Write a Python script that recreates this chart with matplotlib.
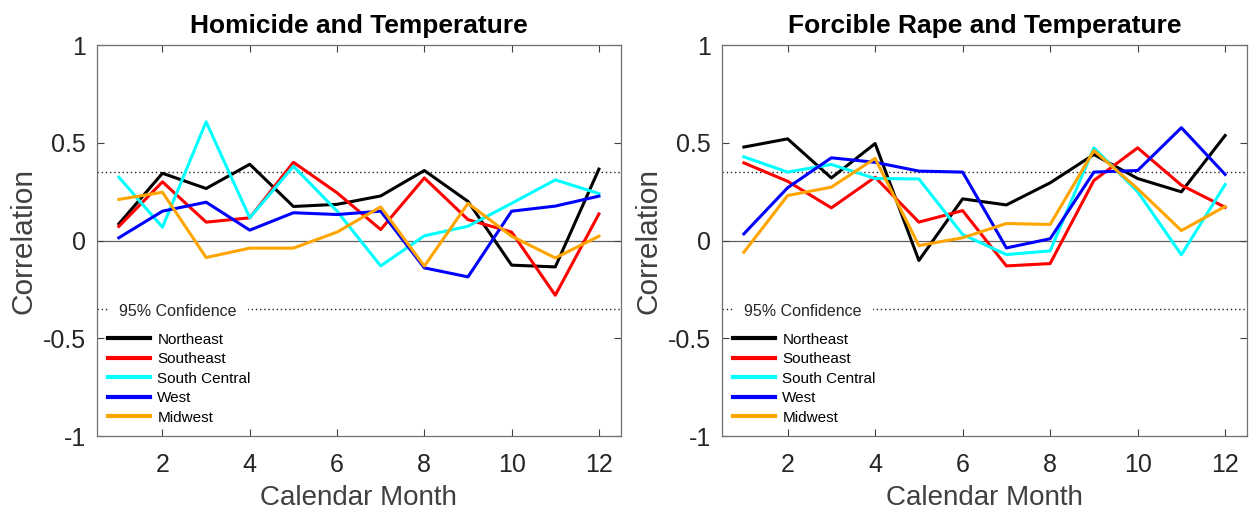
import numpy as np
import matplotlib
matplotlib.use('Agg')
import matplotlib.pyplot as plt
from matplotlib.ticker import FormatStrFormatter

plt.rcParams['font.family'] = ['Liberation Sans', 'DejaVu Sans']
plt.rcParams['axes.unicode_minus'] = False

# Calendar months
months = np.arange(1, 13)
regions = ['Northeast', 'Southeast', 'South Central', 'West', 'Midwest']
colors = ['black', '#ff0000', '#00ffff', '#0000ff', '#ffa500']

# Homicide vs temperature correlations
homicide_northeast = [0.085, 0.344, 0.266, 0.39, 0.174, 0.185, 0.228, 0.358, 0.20, -0.126, -0.135, 0.365]
homicide_southeast = [0.072, 0.30, 0.094, 0.116, 0.40, 0.244, 0.056, 0.32, 0.107, 0.043, -0.28, 0.136]
homicide_southcentral = [0.324, 0.068, 0.607, 0.116, 0.38, 0.15, -0.13, 0.024, 0.073, 0.19, 0.31, 0.24]
homicide_west = [0.014, 0.15, 0.196, 0.053, 0.142, 0.133, 0.15, -0.14, -0.186, 0.15, 0.176, 0.227]
homicide_midwest = [0.21, 0.247, -0.087, -0.039, -0.039, 0.043, 0.172, -0.131, 0.19, 0.022, -0.089, 0.022]

# Forcible rape vs temperature correlations
rape_northeast = [0.478, 0.52, 0.32, 0.496, -0.102, 0.213, 0.182, 0.295, 0.44, 0.317, 0.249, 0.537]
rape_southeast = [0.397, 0.303, 0.167, 0.324, 0.094, 0.153, -0.13, -0.118, 0.307, 0.474, 0.283, 0.17]
rape_southcentral = [0.428, 0.35, 0.389, 0.317, 0.315, 0.031, -0.072, -0.053, 0.474, 0.25, -0.073, 0.286]
rape_west = [0.034, 0.27, 0.423, 0.40, 0.355, 0.35, -0.038, 0.009, 0.35, 0.358, 0.577, 0.338]
rape_midwest = [-0.06, 0.23, 0.273, 0.42, -0.026, 0.014, 0.087, 0.082, 0.46, 0.265, 0.051, 0.174]

confidence = 0.35

panels = [
    ('Homicide and Temperature',
     [homicide_northeast, homicide_southeast, homicide_southcentral, homicide_west, homicide_midwest]),
    ('Forcible Rape and Temperature',
     [rape_northeast, rape_southeast, rape_southcentral, rape_west, rape_midwest]),
]

fig = plt.figure(figsize=(12.5, 5.12), dpi=100)
positions = [[0.0776, 0.1484, 0.419, 0.7637], [0.5776, 0.1484, 0.42, 0.7637]]
edge = '#404040'

for pos, (title, series) in zip(positions, panels):
    ax = fig.add_axes(pos)
    ax.axhline(0, color='#606060', lw=0.9, zorder=1)
    ax.axhline(confidence, color='#202020', lw=1.0, ls=(0, (1, 2)), zorder=1)
    ax.axhline(-confidence, color='#202020', lw=1.0, ls=(0, (1, 2)), zorder=1)
    for vals, name, c in zip(series, regions, colors):
        ax.plot(months, vals, color=c, lw=2.2, label=name, zorder=3)

    ax.set_xlim(0.5, 12.5)
    ax.set_ylim(-1, 1)
    ax.set_xticks([2, 4, 6, 8, 10, 12])
    ax.set_yticks([-1, -0.5, 0, 0.5, 1])
    ax.yaxis.set_major_formatter(FormatStrFormatter('%g'))
    ax.tick_params(direction='in', top=True, right=True, length=5, width=0.8,
                   colors=edge, labelsize=18, labelcolor='#262626')
    ax.tick_params(axis='x', pad=12)
    ax.tick_params(axis='y', pad=8)
    for s in ax.spines.values():
        s.set_color('#707070')
        s.set_linewidth(0.9)

    ax.set_title(title, fontsize=19, fontweight='bold', pad=9)
    ax.set_xlabel('Calendar Month', fontsize=20, color='#404040', labelpad=6)
    ax.set_ylabel('Correlation', fontsize=21.5, color='#404040', labelpad=4)

    ax.text(1.0, -confidence - 0.012, '95% Confidence', fontsize=11.5, color='#262626',
            va='center', ha='left', zorder=2,
            bbox=dict(facecolor='white', edgecolor='none', pad=8))
    leg = ax.legend(loc='upper left', bbox_to_anchor=(0.0, 0.292), frameon=False,
                    fontsize=11, handlelength=2.75, handletextpad=0.5, labelspacing=0.36,
                    borderaxespad=0.3)
    for ln in leg.get_lines():
        ln.set_linewidth(3)

plt.savefig('out.png', dpi=100)
